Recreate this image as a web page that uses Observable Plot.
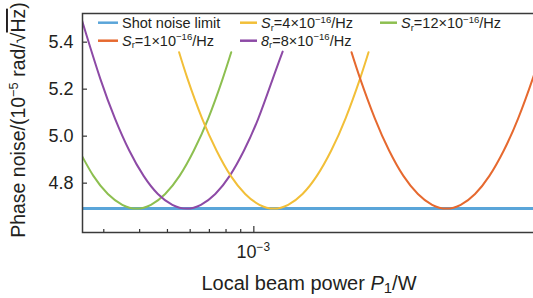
<!DOCTYPE html>
<html><head><meta charset="utf-8">
<script src="https://cdn.jsdelivr.net/npm/d3@7"></script>
<script src="https://cdn.jsdelivr.net/npm/@observablehq/plot@0.6"></script>
<style>
html,body{margin:0;padding:0;overflow:hidden;background:#fff;}
#chart{width:533px;height:298px;overflow:hidden;position:relative;}
#chart svg{max-width:none !important;}
</style>
</head><body><div id="chart"></div>
<script>
// ---- data ----
const shotP = [2.4e-4, 1.05e-2];
const shotNoise = [4.692, 4.692];

const greenP     = [2.46e-4, 2.76e-4, 3.10e-4, 3.48e-4, 3.90e-4, 4.38e-4, 4.91e-4, 5.51e-4, 6.18e-4, 6.94e-4, 7.78e-4, 8.34e-4];
const greenNoise = [4.939, 4.831, 4.754, 4.708, 4.692, 4.708, 4.754, 4.831, 4.939, 5.076, 5.243, 5.357];

const purpleP     = [2.487e-4, 2.604e-4, 2.92e-4, 3.28e-4, 3.68e-4, 4.13e-4, 4.63e-4, 5.20e-4, 5.83e-4, 6.54e-4, 7.34e-4, 8.24e-4, 9.24e-4, 1.037e-3, 1.163e-3, 1.26e-3];
const purpleNoise = [5.515, 5.435, 5.243, 5.076, 4.939, 4.831, 4.754, 4.708, 4.692, 4.708, 4.754, 4.831, 4.939, 5.076, 5.243, 5.36];

const yellowP     = [5.49e-4, 5.88e-4, 6.60e-4, 7.41e-4, 8.31e-4, 9.33e-4, 1.046e-3, 1.174e-3, 1.317e-3, 1.478e-3, 1.658e-3, 1.861e-3, 2.088e-3, 2.342e-3, 2.510e-3];
const yellowNoise = [5.357, 5.243, 5.076, 4.939, 4.831, 4.754, 4.708, 4.692, 4.708, 4.754, 4.831, 4.939, 5.076, 5.243, 5.357];

const orangeP     = [2.19e-3, 2.35e-3, 2.64e-3, 2.96e-3, 3.32e-3, 3.73e-3, 4.18e-3, 4.69e-3, 5.26e-3, 5.90e-3, 6.62e-3, 7.43e-3, 8.34e-3, 9.36e-3, 1.003e-2];
const orangeNoise = [5.357, 5.243, 5.076, 4.939, 4.831, 4.754, 4.708, 4.692, 4.708, 4.754, 4.831, 4.939, 5.076, 5.243, 5.357];

const yTicks = [4.8, 5.0, 5.2, 5.4];
const xMinorTicks = [3e-4, 4e-4, 5e-4, 6e-4, 7e-4, 8e-4, 9e-4];
const xMajorTicks = [1e-3];
const xTickBase = "10";
const xTickExp = "\u22123";

const colors = {shot: "#5aa5d9", orange: "#e6692f", yellow: "#f2bf38", green: "#8dbf50", purple: "#8d4aa6"};

// legend: [color key, label parts]
const legendRow1 = [
  ["shot",   [{t: "Shot noise limit"}]],
  ["yellow", [{t: "S", it: 1}, {t: "r", sub: 1}, {t: "=4\u00d710"}, {t: "\u221216", sup: 1}, {t: "/Hz"}]],
  ["green",  [{t: "S", it: 1}, {t: "r", sub: 1}, {t: "=12\u00d710"}, {t: "\u221216", sup: 1}, {t: "/Hz"}]]
];
const legendRow2 = [
  ["orange", [{t: "S", it: 1}, {t: "r", sub: 1}, {t: "=1\u00d710"}, {t: "\u221216", sup: 1}, {t: "/Hz"}]],
  ["purple", [{t: "8", it: 1}, {t: "r", sub: 1}, {t: "=8\u00d710"}, {t: "\u221216", sup: 1}, {t: "/Hz"}]]
];

const xTitle = [{t: "Local beam power "}, {t: "P", it: 1}, {t: "1", sub: 1}, {t: "/W"}];
const yTitle = [{t: "Phase noise/(10"}, {t: "\u22125", sup: 1}, {t: " rad/\u221a"}, {t: "Hz", over: 1}, {t: ")"}];

// ---- build ----
const zip = (P, N) => P.map((p, i) => ({P: p, noise: N[i]}));
const textColor = "#231f20";
const W = 545, H = 298;
const mL = 82, mR = 9, mT = 13, mB = 66;

const plot = Plot.plot({
  width: W, height: H,
  marginLeft: mL, marginRight: mR, marginTop: mT, marginBottom: mB,
  style: {fontFamily: "'Liberation Sans', Arial, sans-serif", color: textColor, background: "#fff", maxWidth: "none"},
  x: {type: "log", domain: [2.529e-4, 9.66e-3], axis: null},
  y: {domain: [4.59, 5.522], axis: null},
  marks: [
    Plot.line(zip(shotP, shotNoise), {x: "P", y: "noise", stroke: colors.shot, strokeWidth: 3, clip: true}),
    Plot.line(zip(greenP, greenNoise), {x: "P", y: "noise", stroke: colors.green, strokeWidth: 2, curve: "natural", clip: true}),
    Plot.line(zip(purpleP, purpleNoise), {x: "P", y: "noise", stroke: colors.purple, strokeWidth: 2, curve: "natural", clip: true}),
    Plot.line(zip(yellowP, yellowNoise), {x: "P", y: "noise", stroke: colors.yellow, strokeWidth: 2, curve: "natural", clip: true}),
    Plot.line(zip(orangeP, orangeNoise), {x: "P", y: "noise", stroke: colors.orange, strokeWidth: 2, curve: "natural", clip: true}),
    Plot.axisY({ticks: yTicks, tickSize: 0, tickPadding: 9, fontSize: 18, tickFormat: d => d.toFixed(1), label: null}),
    Plot.tickY(yTicks, {y: d => d, stroke: "#333", strokeWidth: 1.2, insetRight: (W - mL - mR) - 5}),
    Plot.tickX(xMinorTicks, {x: d => d, stroke: "#333", strokeWidth: 1.2, insetTop: (H - mT - mB) - 3}),
    Plot.tickX(xMajorTicks, {x: d => d, stroke: "#333", strokeWidth: 1.2, insetTop: (H - mT - mB) - 6}),
    Plot.frame({stroke: "#3a3a3a", strokeWidth: 1.5})
  ]
});
plot.style.maxWidth = "none";
document.getElementById("chart").appendChild(plot);

const svg = d3.select(plot);
const xs = plot.scale("x");

function rich(g, x, y, parts, size, anchor) {
  const t = g.append("text").attr("x", x).attr("y", y).attr("font-size", size)
    .attr("text-anchor", anchor || "start").attr("fill", textColor)
    .attr("font-family", "'Liberation Sans', Arial, sans-serif");
  let shift = 0;
  for (const p of parts) {
    const target = p.sup ? -0.36 * size : p.sub ? 0.18 * size : 0;
    const ts = t.append("tspan").text(p.t).attr("dy", target - shift);
    shift = target;
    if (p.sup || p.sub) ts.attr("font-size", size * (p.sub && size > 18 ? 0.75 : 0.66));
    if (p.it) ts.attr("font-style", "italic");
    if (p.over) ts.style("text-decoration", "overline");
  }
  return t;
}

const g = svg.append("g");
// x tick label 10^-3
rich(g, xs.apply(1e-3), 257.7, [{t: xTickBase}, {t: xTickExp, sup: 1}], 18, "middle");
// axis titles
rich(g, (mL + W - mR) / 2, 289.5, xTitle, 20, "middle");
rich(g.append("g").attr("transform", "translate(25,120) rotate(-90)"), 0, 0, yTitle, 19.5, "middle");

// legend
const colX = [[98, 118, 122], [240, 257, 261], [380, 397, 401]];
[[legendRow1, 22.7, 28.3], [legendRow2, 40.7, 45.7]].forEach(([row, cy, by]) => {
  row.forEach(([key, parts], i) => {
    const [x1, x2, tx] = colX[i];
    g.append("line").attr("x1", x1).attr("x2", x2).attr("y1", cy).attr("y2", cy)
      .attr("stroke", colors[key]).attr("stroke-width", 2.5);
    rich(g, tx, by, parts, 14.5, "start");
  });
});
</script>
</body></html>
